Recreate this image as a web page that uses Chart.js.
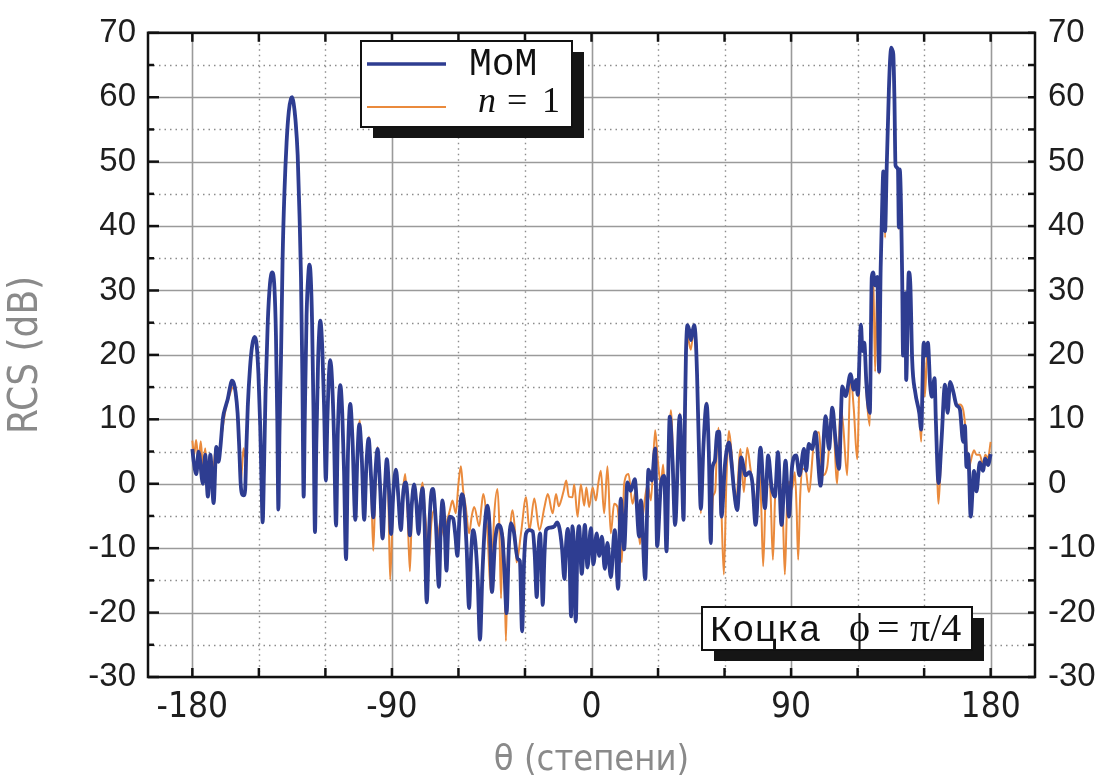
<!DOCTYPE html>
<html>
<head>
<meta charset="utf-8">
<script src="https://cdn.jsdelivr.net/npm/chart.js@4.4.1/dist/chart.umd.min.js"></script>
<style>
  html, body { margin: 0; padding: 0; background: #fff; }
  #wrap { width: 1109px; height: 782px; }
</style>
</head>
<body>
<div id="wrap"><canvas id="rcsChart" width="1109" height="782"></canvas></div>
<script>
// MoM reference solution, theta in degrees, RCS in dB
const momTheta = [
  -180, -179.4, -178.2, -177.2, -175.2, -174.2, -173, -171.9, -170.4, -169.2,
  -168.2, -167.4, -166.2, -165, -164, -163, -162.2, -161.3, -160.5, -159.6,
  -158.9, -158.2, -157.7, -156.8, -156.2, -155.6, -155, -154, -153, -152,
  -151, -150.2, -149.4, -148.8, -148.3, -147.7, -147, -146, -145, -144,
  -143, -142.3, -141.7, -141.2, -140.7, -140, -139.3, -138.5, -137.5, -136.5,
  -135.5, -135, -134.3, -133.5, -132.5, -131.7, -131, -130.4, -129.8, -129.3,
  -128.5, -127.7, -127.2, -126.6, -126, -125.4, -124.7, -124.1, -123.3, -122.3,
  -121.4, -120.6, -119.8, -119.1, -118.4, -117.8, -117, -116.1, -115.2, -114.4,
  -113.3, -112.4, -111.6, -110.7, -109.8, -108.8, -107.8, -106.5, -105.6, -104.7,
  -103.6, -102.5, -101.5, -100.5, -99.4, -98.4, -97.4, -96.5, -95.4, -94.2,
  -93.2, -92.3, -91.3, -90.4, -89.3, -88.2, -87.1, -86, -84.8, -83.7,
  -82.8, -81.9, -81, -80, -79, -78, -77.1, -76.2, -75.3, -74.3,
  -73.3, -72.4, -71.5, -70.2, -68.8, -68, -67.2, -66.3, -65.4, -64.6,
  -63.9, -62.4, -61.4, -60.5, -59.5, -58.5, -57.5, -56.3, -55.2, -54.3,
  -53.4, -52.4, -51.3, -50.3, -49.2, -48, -46.9, -45.9, -44.9, -43.5,
  -41.9, -40.1, -39.2, -38.3, -37.3, -36.3, -35, -33.3, -32.3, -31.3,
  -30.4, -29.5, -28, -26.5, -25.6, -24.7, -23.9, -23.2, -22.6, -22,
  -21.2, -20.5, -18.6, -16.7, -15.5, -14.4, -13.3, -12.2, -11.4, -10.7,
  -9.9, -9.2, -8.6, -7.9, -7.1, -6.3, -5.6, -4.4, -3, -1.8,
  -0.3, 0.9, 2.3, 3.5, 4.7, 6, 7.2, 8.7, 10.5, 12,
  13.2, 14.7, 16.2, 17.7, 19.5, 21.5, 22.3, 24.2, 25.7, 27.2,
  28.7, 29.6, 31.3, 32.8, 33.8, 35.3, 36.5, 37.7, 39.8, 40.7,
  41.5, 42.1, 42.6, 43.3, 44.1, 44.8, 45.5, 46.3, 47, 47.6,
  48.4, 49.3, 50.5, 51.9, 52.9, 53.8, 54.4, 55.6, 56.7, 57.6,
  58.6, 60.2, 62, 63.2, 64.2, 65.7, 67.5, 69.5, 71.3, 72.6,
  74, 76.2, 78.2, 79.7, 81.2, 82.7, 84.1, 85.7, 87.5, 89,
  90.5, 92.3, 93.8, 95.8, 96.8, 98, 99.5, 101, 103.3, 105.6,
  107.1, 108.6, 110, 111.6, 113.1, 114.6, 116.8, 118.3, 119.3, 120.1,
  121.5, 122.2, 123, 124, 125.5, 126.4, 127, 127.9, 128.9, 129.7,
  130.4, 131.2, 131.6, 132.4, 133.1, 134.1, 134.6, 135.2, 135.7, 136.1,
  136.6, 137.1, 138.2, 138.6, 139, 140.1, 140.5, 141.6, 141.9, 143.1,
  143.8, 144.6, 146, 147.8, 148.7, 149.8, 150.8, 151.7, 152.7, 153.5,
  154.7, 155.3, 156.5, 157.9, 159.4, 160.6, 161.7, 163.2, 164.6, 166.1,
  167.6, 168.4, 169.1, 169.9, 171, 172.5, 173.6, 175.1, 176.5, 177.6,
  178.8, 180
];
const momRcs = [
  5.4, 3.5, 1.5, 5, 0, 4.5, -2, 4.5, -3, 5.7,
  3.4, 5.5, 10.2, 12, 13.2, 15, 16, 15.6, 14.2, 11,
  6, 0, -1.5, -1.8, -1, 6, 12, 18, 21.5, 22.8,
  21.5, 17, 9, 0, -6, 2, 14, 25, 31, 32.8,
  30.5, 23, 10, -4, 8, 20, 35, 45, 53, 57.8,
  59.8, 60, 59, 56.5, 51, 42, 32, 17, -2, 10,
  26, 32.5, 34, 32, 25, 12, -7.5, 6, 19, 25.3,
  21, 12, 0.5, 10, 17, 19.2, 16, 7, -6.5, 8,
  15.3, 11, 2, -11.7, 5, 12.4, 7, -5.6, 4, 9.2,
  4, -5.6, 3, 7, 1, -5.2, 2, 5.4, 0, -8.5,
  -1, 3.8, -1, -7.8, -1, 2.2, -2, -7.2, -1, 0.2,
  -3, -8, -3, -0.1, -3, -7.8, -3, -0.7, -6, -18.4,
  -8, -2, -0.8, -6, -16, -7, -2.6, -6, -13.5, -7,
  -5.1, -5.4, -8, -11.2, -5, -1.6, -3, -10, -19.3, -11,
  -7.2, -9, -15, -24.2, -14, -6, -3.4, -7, -16.8, -9,
  -6.4, -8.7, -14, -20.1, -10, -6.1, -7.5, -11.7, -12, -22.9,
  -12, -7.7, -7.2, -7.4, -11, -17.6, -10, -7.7, -12, -18.8,
  -11, -7.2, -6.8, -6.6, -6, -7, -10, -14.8, -9, -7,
  -12, -20.6, -6.6, -10, -21.4, -9, -6.6, -14, -6.4, -13,
  -6.9, -12.5, -7.7, -11.2, -8.2, -13.2, -9.2, -14.5, -7.2, -16.3,
  -2.3, -10.2, 0.2, -1.1, 0.7, -8.2, -2.6, -14.8, 2.2, 0.5,
  5.5, -9.7, -0.1, 1.2, -10.5, 10.4, 4, -6.4, 10.6, 3,
  -5.6, 10, 20.3, 24.6, 23.8, 22.3, 23.5, 24.6, 22.5, 17,
  6, -3.9, 6, 12.4, 5, -9.2, 2, 3.5, 8, 8.1,
  -5.1, 3, 6.4, 3, -0.8, -4.1, 4.1, 1.3, 1.8, 0,
  -6.4, 5.6, -3.8, 4.4, -0.5, -2, 4.9, -6.4, 3.6, -5.1,
  2.8, 4.4, 1.3, 5.4, 2, 6.2, 5.4, 8, -0.3, 10.5,
  5.4, 11.8, 7, 2.3, 15.1, 13.6, 17, 14.6, 16.1, 13.8,
  24.7, 20.6, 21.9, 15.4, 11, 32.1, 32.8, 30.8, 32.1, 17.4,
  33.4, 44.9, 48.5, 39.2, 48.8, 61, 65.5, 67.7, 67.3, 66.7,
  60, 49.4, 48.8, 39.8, 48.8, 32.1, 19.9, 29.6, 16.1, 32.8,
  30.8, 19.3, 14.2, 11, 8.4, 21.9, 19.9, 21.9, 15.4, 13.5,
  16.4, 9.7, 0.1, 7.1, 15.4, 11, 15.8, 14.2, 12.2, 11.6,
  6.5, 9, 2.6, 4.6, -5.1, 2, -1.2, 3.3, 2, 3.9,
  2.9, 4.6
];

// first-order (n = 1) approximation
const n1Theta = [
  -180, -179.2, -178.3, -177.2, -176.2, -175.2, -174.2, -173.1, -172, -170.8,
  -169.5, -168.3, -167.4, -166.2, -165, -164, -163, -162.2, -161.3, -160.5,
  -159.6, -158.9, -158.3, -157.6, -156.9, -156.2, -155.6, -155, -154, -153,
  -152, -151, -150.2, -149.4, -148.8, -148.3, -147.7, -147, -146, -145,
  -144, -143, -142.3, -141.7, -141.2, -140.7, -140, -139.3, -138.5, -137.5,
  -136.5, -135.5, -135, -134.3, -133.5, -132.5, -131.7, -131, -130.4, -129.8,
  -129.3, -128.5, -127.7, -127.2, -126.6, -126, -125.4, -124.7, -124.1, -123.3,
  -122.3, -121.4, -120.6, -119.8, -119.1, -118.4, -117.8, -117, -116.1, -115.2,
  -114.4, -113.3, -112.4, -111.6, -110.7, -109.8, -108.8, -107.8, -106.5, -105.6,
  -104.5, -103.5, -102.5, -101.4, -100.3, -99.3, -98.4, -97.4, -96.5, -95.4,
  -94.2, -93.2, -92.3, -91.5, -90.8, -89.5, -88.2, -87.1, -86, -85,
  -84, -83, -81.9, -81, -80, -79, -78, -77.1, -76.2, -75.2,
  -74, -73.3, -72.2, -71, -70.2, -69.5, -68.7, -68, -66.5, -65,
  -63.8, -62.7, -61.2, -60, -58.9, -57.9, -56.7, -55.2, -54, -52.9,
  -50.6, -49.6, -48.8, -46.9, -45.4, -43.9, -42.4, -41.6, -40.8, -40.2,
  -39.8, -39.2, -38.6, -37.9, -37.1, -35.6, -34.6, -33.8, -31.8, -29.5,
  -28, -25.8, -23.5, -21.2, -19.7, -17.5, -16, -14.8, -13.7, -12.5,
  -11.4, -10.2, -8.6, -7.8, -6.3, -4.8, -3.3, -2.3, -1.1, 0.5,
  2, 3, 4.2, 5.7, 7.2, 8.7, 10.2, 11.7, 13.7, 14.7,
  16.7, 18.5, 20, 21.8, 23.3, 25.3, 26.8, 28.7, 29.8, 31.3,
  32.3, 33.8, 35.8, 37.7, 39.8, 41.8, 42.6, 43.3, 44.8, 46.3,
  47.4, 48.4, 49.3, 50.5, 51.9, 52.9, 53.8, 54.8, 55.8, 56.6,
  57.3, 58.5, 59.7, 60.8, 62, 63.5, 65, 67.2, 68.7, 70.2,
  71.7, 74, 75.5, 76.5, 77.4, 78.5, 79.7, 80.8, 81.8, 82.8,
  83.8, 85.3, 86.3, 87.2, 88.2, 89, 90.5, 91.7, 92.5, 93.2,
  94.1, 95, 96.5, 98, 100.8, 102.6, 104.1, 106.3, 108.6, 110.8,
  112.3, 113.5, 115.3, 116.8, 118.3, 119.8, 121.5, 122.2, 123, 124,
  125.5, 126.4, 127, 127.9, 128.9, 129.7, 130.4, 131.2, 131.6, 132.4,
  133.1, 134.1, 134.6, 135.2, 135.7, 136.1, 136.6, 137.1, 138.2, 138.6,
  139, 140.1, 140.5, 141.6, 141.9, 143.1, 143.8, 144.6, 146, 147.8,
  148.7, 149.8, 150.3, 151.7, 152.7, 153.5, 154.7, 155.3, 156.5, 157.9,
  159.4, 160.6, 161.7, 163.2, 164.6, 166.1, 167.6, 168.4, 169.1, 169.9,
  171, 172.5, 173.6, 175.1, 176.5, 177.6, 178.8, 180
];
const n1Rcs = [
  6.7, 4.5, 6.8, 3.5, 6.6, 2.5, 5.5, 1, 4.5, 1.5,
  5.5, 4, 6, 9, 11.5, 13, 14, 14.8, 15, 14,
  11, 6, 0, 2.5, 5.5, 4, 6.5, 12, 18, 21.5,
  22.8, 21.5, 17, 9, 0, -6, 2, 14, 25, 31,
  32.8, 30.5, 23, 10, -4, 8, 20, 35, 45, 53,
  57.8, 59.8, 60, 59, 56.5, 51, 42, 32, 17, -2,
  10, 26, 32.5, 34, 32, 25, 12, -7.5, 6, 19,
  25.3, 21, 12, 0.5, 10, 17, 19.2, 16, 7, -6.5,
  8, 15.3, 11, 2, -11.7, 5, 12.4, 7, -5.6, 4,
  9.9, 3, -3, 4, 7.3, -1, -10.4, 0, 5.7, -1,
  -7.2, 0, 3.8, -4, -14.9, -3, 1.2, -2, -6.5, -1,
  1.5, -4, -13.6, -4, -0.1, -3, -7.8, -2, 0.2, -4,
  -9, -11.7, -6, -4.1, -6, -11.2, -7, -5.6, -8.2, -5.6,
  -4, -2.6, -4.6, 0, 2.7, -1, -3.6, -7.7, -5, -3.6,
  -6.6, -3.5, -1.6, -7.7, -16.8, -5, -0.8, -6, -17.8, -9,
  -7.7, -14, -24.4, -13, -8.7, -4.1, -7, -12.2, -7.7, -2.1,
  -7.2, -2.3, -7.2, -3.6, -1.6, -4.6, -1.6, -3.5, -2.6, -1,
  0.5, -2, -2.1, -0.1, -5.1, -0.1, -3.4, -0.6, -3.6, -0.6,
  -2.6, -0.1, 2, -4.6, 2.7, -7.7, -3.1, -3.6, -12.2, -0.1,
  1.5, -3.1, -1.1, -9.4, -4.6, -0.1, -2.6, 8.3, 4, -0.1,
  3, -5.1, 11.4, -3.6, 10.9, -5.1, 19, 22.8, 20.8, 24.6,
  20.3, 6, -4.6, 6, 12.6, 5, -8.7, -2, -1.1, 6,
  8.7, -3, -14.1, 0, 8.2, 3.3, -3.8, 5.4, -1.3, 5.6,
  2.3, -3.3, 2.8, -3, -12.8, -2, 4.4, -2, -11.8, -2,
  2.3, -0.8, -5, -14.1, -3, 0.3, -0.8, 1.8, -4, -11.8,
  -2, 2.3, 2.3, -1.3, 7.7, 8, 1.3, 2.6, 11.5, 0,
  12, 9, 1.3, 16.7, 11.5, 3.8, 24.7, 20.6, 21.9, 14,
  9, 32.1, 32.8, 17.4, 32.1, 17, 33.4, 44.9, 48.5, 38.2,
  48.8, 61, 65.5, 67.7, 67.3, 66.7, 60, 49.4, 48.8, 39.5,
  48.8, 32.1, 19.9, 29.6, 16.1, 32.8, 30.8, 19, 14.2, 11,
  6.5, 21.9, 13.5, 21.9, 15.4, 13.5, 16.4, 9.7, -3.1, 7.1,
  15.4, 11, 15.8, 14.2, 12.2, 12.3, 11.5, 9.4, 6, 2,
  3.5, 5.2, 4.5, 4.5, 3, 4.5, 4, 6.5
];

// axis ticks and grid values
const thetaLabels = [-180, -90, 0, 90, 180];
const thetaTicks = [-180, -150, -120, -90, -60, -30, 0, 30, 60, 90, 120, 150, 180];
const thetaMinorGrid = [-150, -120, -60, -30, 30, 60, 120, 150];
const rcsLabels = [-30, -20, -10, 0, 10, 20, 30, 40, 50, 60, 70];
const rcsMinorTicks = [-25, -15, -5, 5, 15, 25, 35, 45, 55, 65];

const BLUE = '#2e3d91';
const ORANGE = '#ea8a3c';
const NARROW = "'Liberation Sans Narrow', 'DejaVu Sans Condensed', 'Arial Narrow', sans-serif";
const SANS = "'Liberation Sans', Arial, sans-serif";

function toPoints(xs, ys) {
  return xs.map((v, i) => ({ x: v, y: ys[i] }));
}

function seg(ctx, x1, y1, x2, y2) {
  ctx.beginPath();
  ctx.moveTo(x1, y1);
  ctx.lineTo(x2, y2);
  ctx.stroke();
}

// grid lines behind the curves, frame and inward ticks on top
const frameGrid = {
  id: 'frameGrid',
  beforeDatasetsDraw(chart) {
    const { ctx, chartArea: a, scales: { x, y } } = chart;
    ctx.save();
    ctx.strokeStyle = '#8c8c8c';
    ctx.lineWidth = 1.4;
    ctx.setLineDash([1.5, 4]);
    thetaMinorGrid.forEach(v => {
      const px = Math.round(x.getPixelForValue(v)) + 0.5;
      seg(ctx, px, a.top, px, a.bottom);
    });
    rcsMinorTicks.forEach(v => {
      const py = Math.round(y.getPixelForValue(v)) + 0.5;
      seg(ctx, a.left, py, a.right, py);
    });
    ctx.setLineDash([]);
    ctx.strokeStyle = '#9a9a9a';
    ctx.lineWidth = 1.6;
    thetaLabels.forEach(v => {
      const px = Math.round(x.getPixelForValue(v)) + 0.5;
      seg(ctx, px, a.top, px, a.bottom);
    });
    rcsLabels.forEach(v => {
      const py = Math.round(y.getPixelForValue(v)) + 0.5;
      seg(ctx, a.left, py, a.right, py);
    });
    ctx.restore();
  },
  afterDatasetsDraw(chart) {
    const { ctx, chartArea: a, scales: { x, y } } = chart;
    ctx.save();
    ctx.strokeStyle = '#111';
    ctx.lineWidth = 2.5;
    thetaTicks.forEach(v => {
      const px = x.getPixelForValue(v);
      seg(ctx, px, a.top, px, a.top + 9);
      seg(ctx, px, a.bottom, px, a.bottom - 9);
    });
    rcsLabels.forEach(v => {
      const py = y.getPixelForValue(v);
      seg(ctx, a.left, py, a.left + 11, py);
      seg(ctx, a.right, py, a.right - 7, py);
    });
    rcsMinorTicks.forEach(v => {
      const py = y.getPixelForValue(v);
      seg(ctx, a.left, py, a.left + 6, py);
      seg(ctx, a.right, py, a.right - 7, py);
    });
    ctx.lineWidth = 2.5;
    ctx.strokeRect(a.left, a.top, a.right - a.left, a.bottom - a.top);
    ctx.restore();
  }
};

function shadowBox(ctx, x, y, w, h) {
  ctx.fillStyle = '#151515';
  ctx.fillRect(x + 12, y + 11, w, h);
  ctx.fillStyle = '#fff';
  ctx.fillRect(x, y, w, h);
  ctx.strokeStyle = '#111';
  ctx.lineWidth = 2;
  ctx.strokeRect(x, y, w, h);
}

// legend and case label, both with drop shadow
const boxes = {
  id: 'boxes',
  afterDraw(chart) {
    const ctx = chart.ctx;
    ctx.save();
    shadowBox(ctx, 361, 41, 211, 86);
    ctx.lineCap = 'butt';
    ctx.strokeStyle = BLUE;
    ctx.lineWidth = 3.5;
    seg(ctx, 367, 64, 446, 64);
    ctx.strokeStyle = ORANGE;
    ctx.lineWidth = 2;
    seg(ctx, 367, 107, 446, 107);
    ctx.fillStyle = '#111';
    ctx.textBaseline = 'alphabetic';
    ctx.font = "38px 'Liberation Mono', 'Courier New', monospace";
    ctx.fillText('MoM', 469, 75);
    ctx.font = "italic 36px 'Liberation Serif', 'Times New Roman', serif";
    ctx.fillText('n', 478, 112);
    ctx.font = "36px 'Liberation Serif', 'Times New Roman', serif";
    ctx.fillText('=', 507, 112);
    ctx.fillText('1', 542, 112);

    shadowBox(ctx, 702, 607, 270, 43);
    ctx.fillStyle = '#111';
    ctx.font = "37px 'Liberation Mono', 'Courier New', monospace";
    ctx.fillText('Коцка', 710, 641);
    ctx.font = "40px 'Liberation Serif', 'DejaVu Serif', serif";
    ctx.fillText('ϕ', 849, 641);
    ctx.fillText('=', 877, 641);
    ctx.fillText('π/4', 910, 641);
    ctx.restore();
  }
};

const ctx = document.getElementById('rcsChart');
new Chart(ctx, {
  type: 'line',
  data: {
    datasets: [
      {
        label: 'MoM',
        data: toPoints(momTheta, momRcs),
        borderColor: BLUE,
        borderWidth: 3.8,
        pointRadius: 0,
        cubicInterpolationMode: 'monotone',
        order: 0
      },
      {
        label: 'n = 1',
        data: toPoints(n1Theta, n1Rcs),
        borderColor: ORANGE,
        borderWidth: 2,
        pointRadius: 0,
        cubicInterpolationMode: 'monotone',
        order: 1
      }
    ]
  },
  options: {
    responsive: false,
    animation: false,
    layout: { padding: { top: 23, left: 0, right: 0, bottom: 0 } },
    plugins: { legend: { display: false }, tooltip: { enabled: false } },
    scales: {
      x: {
        type: 'linear',
        min: -200,
        max: 200,
        afterBuildTicks: s => { s.ticks = thetaLabels.map(v => ({ value: v })); },
        afterFit: s => { s.height = 105; },
        grid: { display: false, drawTicks: false },
        border: { display: false },
        ticks: {
          autoSkip: false,
          maxRotation: 0,
          padding: 10,
          color: '#1e1e1e',
          font: { family: NARROW, size: 35 }
        },
        title: {
          display: true,
          text: 'θ (степени)',
          color: '#8a8a8a',
          padding: { top: 0, bottom: 3 },
          font: { family: NARROW, size: 36, lineHeight: 1.0 }
        }
      },
      y: {
        position: 'left',
        min: -30,
        max: 70,
        afterBuildTicks: s => { s.ticks = rcsLabels.map(v => ({ value: v })); },
        afterFit: s => { s.width = 148; },
        grid: { display: false, drawTicks: false },
        border: { display: false },
        ticks: {
          padding: 12,
          color: '#1e1e1e',
          font: { family: SANS, size: 33 }
        },
        title: {
          display: true,
          text: 'RCS (dB)',
          color: '#8a8a8a',
          padding: { top: 7, bottom: 0 },
          font: { family: NARROW, size: 40, lineHeight: 1.0 }
        }
      },
      y2: {
        position: 'right',
        min: -30,
        max: 70,
        afterBuildTicks: s => { s.ticks = rcsLabels.map(v => ({ value: v })); },
        afterFit: s => { s.width = 74; },
        grid: { display: false, drawTicks: false },
        border: { display: false },
        ticks: {
          padding: 13,
          color: '#1e1e1e',
          font: { family: SANS, size: 33 }
        }
      }
    }
  },
  plugins: [frameGrid, boxes]
});
</script>
</body>
</html>
